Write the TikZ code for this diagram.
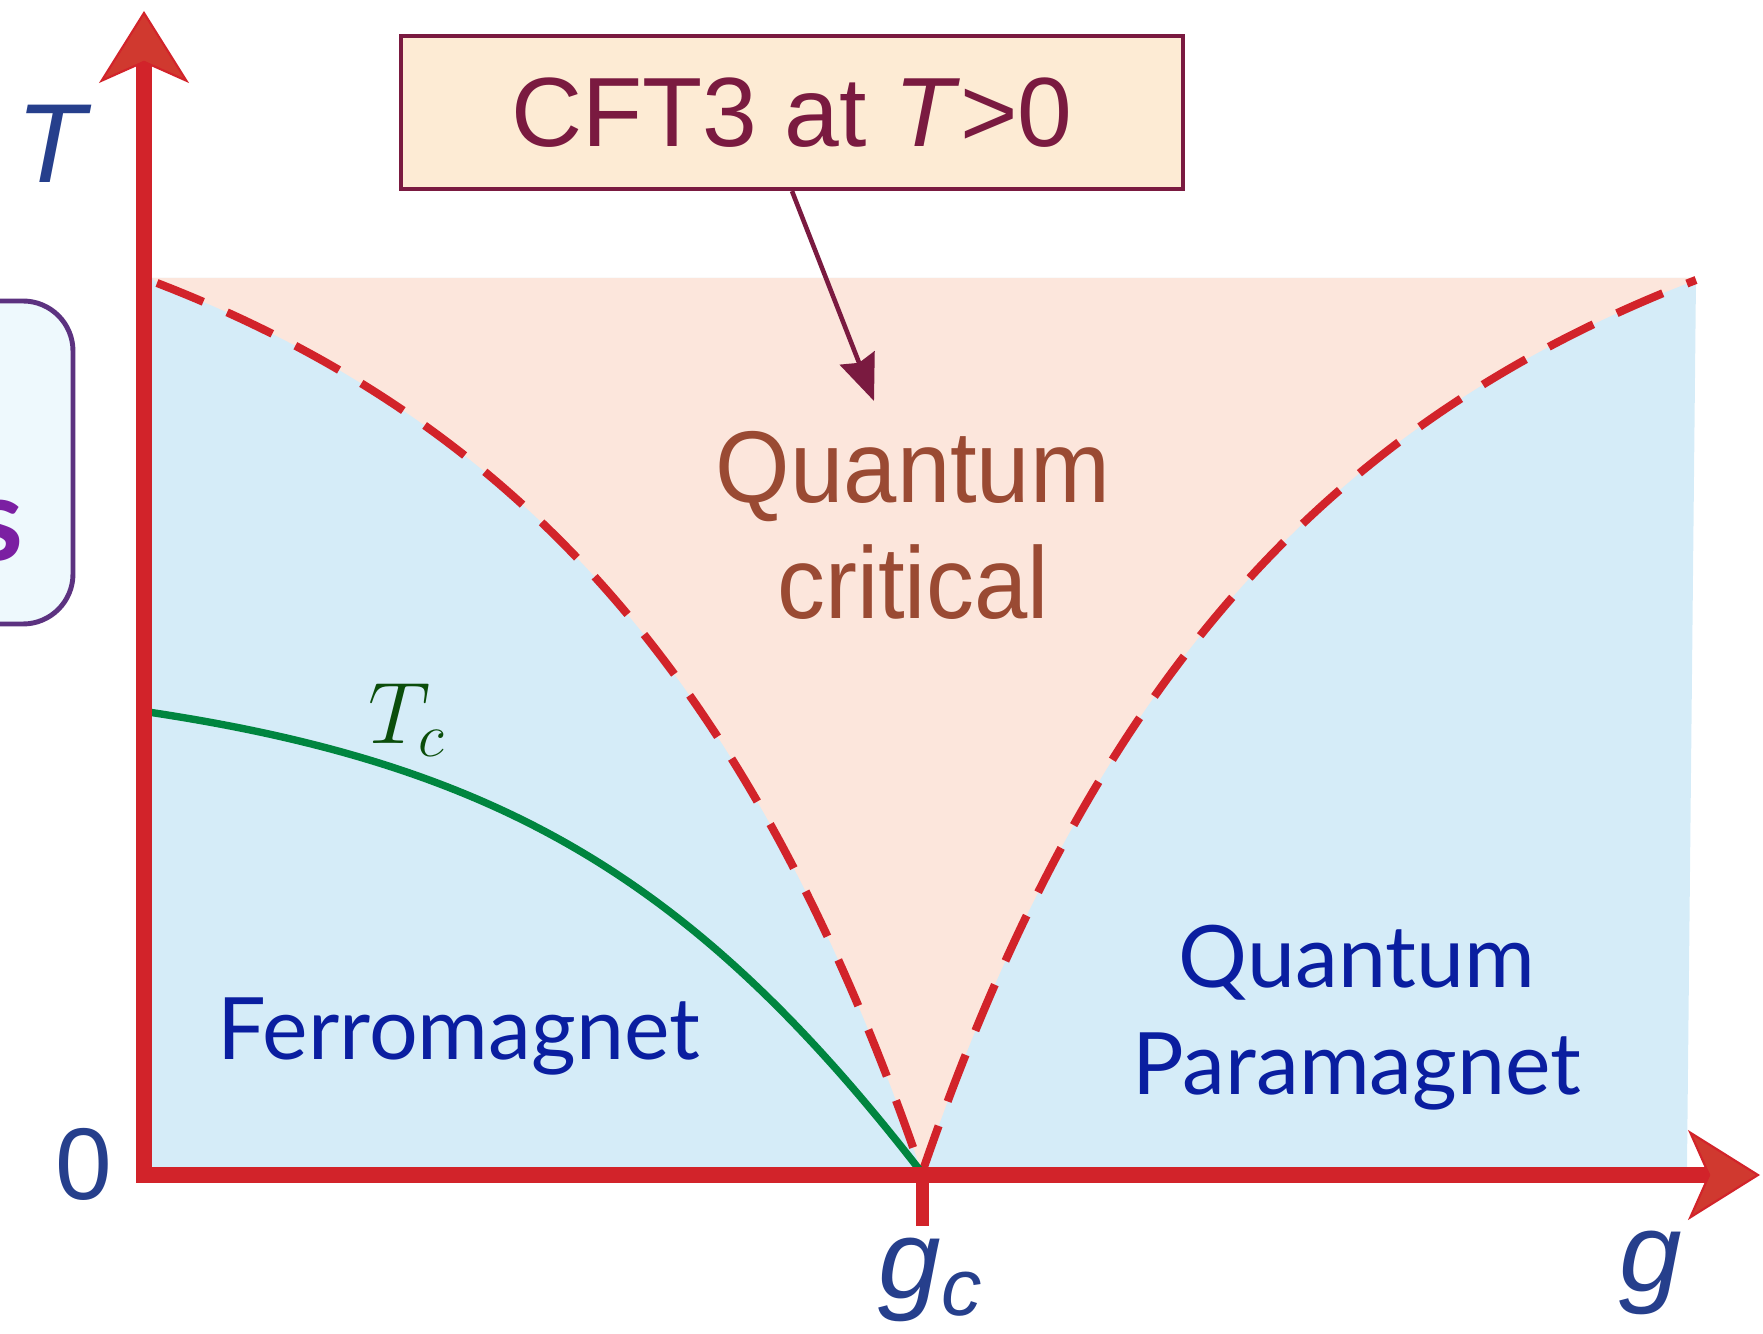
\documentclass[tikz,border=0pt]{standalone}
\usepackage{fontspec}
\usetikzlibrary{arrows.meta}

\newfontfamily\labelfont{Liberation Sans}
\newfontfamily\narrowfont[FakeStretch=0.94]{Liberation Sans}
\newfontfamily\regionfont[Ligatures=NoCommon]{Lato}

\definecolor{axisred}{HTML}{D2232A}
\definecolor{tipred}{HTML}{D0392F}
\definecolor{orderblue}{HTML}{D5ECF8}
\definecolor{critpeach}{HTML}{FCE6DC}
\definecolor{tcgreen}{HTML}{00853F}
\definecolor{tcdark}{HTML}{0B4D0B}
\definecolor{axislabel}{HTML}{263F8C}
\definecolor{phaseblue}{HTML}{0A1EA0}
\definecolor{critbrown}{HTML}{9A4A33}
\definecolor{cftfill}{HTML}{FDEBD4}
\definecolor{cftborder}{HTML}{7A1A40}
\definecolor{sidefill}{HTML}{EEF9FD}
\definecolor{sideborder}{HTML}{5C3280}
\definecolor{sidetext}{HTML}{7B1FA2}

\begin{document}
\begin{tikzpicture}[
    >={Stealth[length=0.72cm, width=0.9cm, inset=0.2cm, line width=0.6pt, fill=tipred]},
    axis/.style={draw=axisred, line width=4.3pt, line join=miter, <->},
    gctick/.style={draw=axisred, line width=3.7pt},
    crossover/.style={draw=axisred, line width=2.3pt,
                      dash pattern=on 0.50cm off 0.26cm},
    tcline/.style={draw=tcgreen, line width=2.1pt},
    pointer/.style={draw=cftborder, line width=1.3pt,
                    -{Stealth[length=0.46cm, width=0.37cm, inset=0.05cm]}},
    cftbox/.style={draw=cftborder, line width=1.2pt, fill=cftfill,
                   text=cftborder, minimum width=7.82cm, minimum height=1.53cm,
                   font=\labelfont\fontsize{28}{34}\selectfont},
    sidebox/.style={draw=sideborder, line width=1.4pt, fill=sidefill,
                    rounded corners=0.5cm},
    axlbl/.style={text=axislabel, font=\labelfont\fontsize{32}{38}\selectfont},
    phase/.style={text=phaseblue, align=center,
                  font=\regionfont\fontsize{24.5}{30.5}\selectfont},
    critlbl/.style={text=critbrown, align=center,
                    font=\narrowfont\fontsize{29}{33}\selectfont},
]

\useasboundingbox (-1.44,-1.58) rectangle (16.19,11.75);

% === Phase diagram ===

% Key positions
\def\gc{7.78}
\def\ytop{8.97}

\coordinate (origin) at (0,0);
\coordinate (gc) at (\gc,0.02);
\coordinate (leftend) at (0.13,8.92);
\coordinate (rightend) at (15.52,8.95);
\coordinate (tcstart) at (0.04,4.63);

% --- Background regions ---
\fill[orderblue] (0.08,0.08) -- (0.08,\ytop) -- (15.52,\ytop) -- (15.43,0.08) -- cycle;
\fill[critpeach] (0.08,\ytop) -- (leftend)
    .. controls (3.83,7.49) and (6.13,4.83) .. (gc)
    .. controls (9.43,4.83) and (11.75,7.50) .. (rightend)
    -- (15.52,\ytop) -- cycle;

% --- Crossover lines ---
\draw[crossover] (leftend) .. controls (3.83,7.49) and (6.13,4.83) .. (gc);
\draw[crossover] (gc) .. controls (9.43,4.83) and (11.75,7.50) .. (rightend);

% --- Tc line ---
\draw[tcline] (tcstart) .. controls (3.58,4.10) and (5.52,2.94) .. (gc);
\node[text=tcdark, font=\fontsize{25}{30}\selectfont] (tclbl) at (2.63,4.55) {$T_c$};

% --- Side box (cut off) ---
\draw[sidebox] (-2.6,5.51) rectangle (-0.71,8.74);
\node[text=sidetext, font=\regionfont\bfseries\fontsize{33}{38}\selectfont] (sidelbl) at (-1.46,6.44) {s};

% --- Axes ---
\coordinate (Ttip) at (0,11.64);
\coordinate (gtip) at (16.16,0);
\coordinate (gcbase) at (\gc,0);
\coordinate (gcend) at (\gc,-0.51);
\draw[axis] (Ttip) -- (origin) -- (gtip);
\draw[gctick] (gcbase) -- (gcend);

% --- Axis labels ---
\node[axlbl] (Tlbl) at (-0.93,10.31) {\itshape T};
\node[axlbl, font=\labelfont\fontsize{29}{34}\selectfont] (zerolbl) at (-0.60,0.11) {0};
\node[axlbl] (gclbl) at (7.86,-1.05) {\itshape g\raisebox{-0.28ex}{\fontsize{23}{28}\selectfont c}};
\node[axlbl] (glbl) at (15.07,-0.98) {\itshape g};

% --- Region labels ---
\node[critlbl] (qclbl) at (7.69,6.50) {Quantum\\critical};
\node[phase] (fmlbl) at (3.15,1.38) {Ferromagnet};
\node[phase] (pmlbl) at (12.13,1.57) {Quantum\\Paramagnet};

% --- CFT3 note ---
\node[cftbox] (cft) at (6.48,10.625) {CFT3 at \textit{T}>0};
\coordinate (qcpoint) at (7.30,7.74);
\draw[pointer] (cft.south) -- (qcpoint);

\end{tikzpicture}
\end{document}
